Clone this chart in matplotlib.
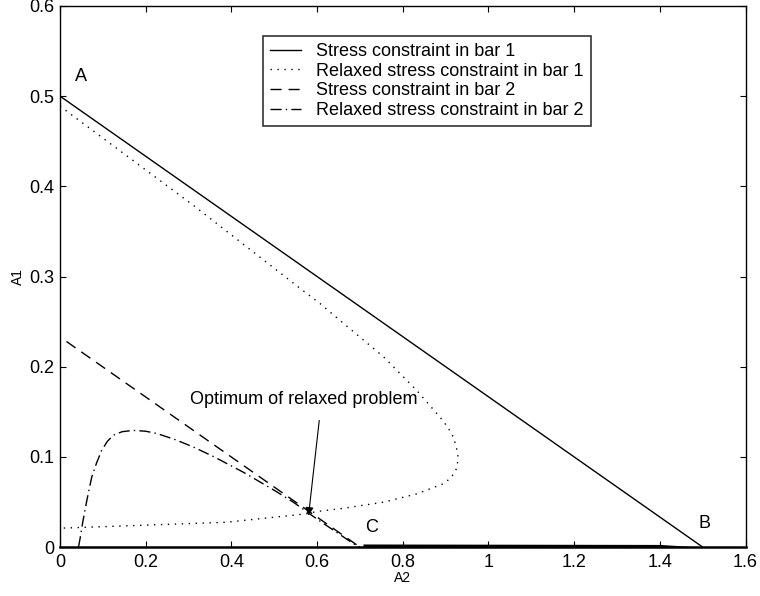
import matplotlib
matplotlib.use('Agg')
import matplotlib.pyplot as plt

plt.rcParams['font.family'] = ['Liberation Sans', 'DejaVu Sans']

# stress constraint in bar 1: straight line A -> B
bar1_a2 = [0.0, 1.5]
bar1_a1 = [0.5, 0.0]

# relaxed stress constraint in bar 1 (C-shaped curve)
relax1_a2 = [0.0, 0.012, 0.311, 0.56, 0.607, 0.653, 0.755, 0.832, 0.887, 0.905, 0.918,
             0.925, 0.929, 0.927, 0.922, 0.910, 0.895, 0.832, 0.755, 0.653, 0.599,
             0.576, 0.389, 0.0]
relax1_a1 = [0.489, 0.4846, 0.379, 0.287, 0.27, 0.2515, 0.211, 0.174, 0.144, 0.133, 0.122,
             0.111, 0.1, 0.09, 0.083, 0.076, 0.0703, 0.059, 0.0498, 0.0425, 0.0395,
             0.037, 0.0276, 0.021]

# stress constraint in bar 2
bar2_a2 = [0.015, 0.70]
bar2_a1 = [0.228, 0.0]

# relaxed stress constraint in bar 2
relax2_a2 = [0.043, 0.047, 0.052, 0.058, 0.066, 0.074, 0.085, 0.097, 0.110, 0.124,
             0.145, 0.171, 0.200, 0.226, 0.270, 0.311, 0.360, 0.428, 0.500, 0.544,
             0.600, 0.650, 0.684, 0.70]
relax2_a1 = [0.0, 0.010, 0.025, 0.0406, 0.060, 0.0776, 0.093, 0.107, 0.117, 0.124,
             0.128, 0.1294, 0.1285, 0.126, 0.119, 0.111, 0.100, 0.083, 0.063, 0.050,
             0.031, 0.015, 0.004, 0.0]

# thin sliver of the feasible region along A1 = 0 between C and B
sliver_a2 = [0.707, 1.40, 1.5]
sliver_top = [0.0035, 0.0030, 0.0]

optimum = (0.58, 0.035)
arrow_tail = (0.605, 0.1405)
note_pos = (0.568, 0.164)

xticks = [0, 0.2, 0.4, 0.6, 0.8, 1.0, 1.2, 1.4, 1.6]
xtick_labels = ['0', '0.2', '0.4', '0.6', '0.8', '1', '1.2', '1.4', '1.6']
yticks = [0, 0.1, 0.2, 0.3, 0.4, 0.5, 0.6]
ytick_labels = ['0', '0.1', '0.2', '0.3', '0.4', '0.5', '0.6']

fs = 13

fig = plt.figure(figsize=(7.6, 5.96), dpi=100)
ax = fig.add_axes([0.079, 0.082, 0.902, 0.908])

ax.plot(bar1_a2, bar1_a1, color='black', lw=1.0, label='Stress constraint in bar 1')
ax.plot(relax1_a2, relax1_a1, color='black', lw=1.0, linestyle=(0, (1, 4)),
        label='Relaxed stress constraint in bar 1')
ax.plot(bar2_a2, bar2_a1, color='black', lw=1.0, linestyle=(0, (8, 5)),
        label='Stress constraint in bar 2')
ax.plot(relax2_a2, relax2_a1, color='black', lw=1.0, linestyle=(0, (8, 3, 1, 3)),
        label='Relaxed stress constraint in bar 2')
ax.fill_between(sliver_a2, 0, sliver_top, color='black', lw=0)

ax.text(*note_pos, 'Optimum of relaxed problem', ha='center', va='center', fontsize=fs)
ax.annotate('', xy=optimum, xytext=arrow_tail,
            arrowprops=dict(arrowstyle='-|>', color='black', lw=0.8,
                            mutation_scale=12, shrinkA=0, shrinkB=0))

ax.text(0.05, 0.522, 'A', fontsize=fs, ha='center', va='center')
ax.text(1.505, 0.026, 'B', fontsize=fs, ha='center', va='center')
ax.text(0.727, 0.022, 'C', fontsize=fs, ha='center', va='center')

ax.set_xlim(0, 1.6)
ax.set_ylim(0, 0.6)
ax.set_xticks(xticks)
ax.set_xticklabels(xtick_labels)
ax.set_yticks(yticks)
ax.set_yticklabels(ytick_labels)
ax.tick_params(direction='in', length=4, width=0.8, top=True, right=True,
               labelsize=fs, colors='black')
ax.tick_params(axis='x', pad=5)
ax.tick_params(axis='y', pad=4)
for side in ['left', 'right', 'top']:
    ax.spines[side].set_linewidth(1.0)
ax.spines['bottom'].set_linewidth(1.8)

ax.set_xlabel('A2', fontsize=10, labelpad=0)
ax.set_ylabel('A1', fontsize=10, labelpad=3)

leg = ax.legend(loc='upper left', bbox_to_anchor=(0.296, 0.945), fontsize=fs,
                frameon=True, fancybox=False, handlelength=1.7, borderpad=0.4,
                labelspacing=0.15, handletextpad=0.85, borderaxespad=0)
leg.get_frame().set_edgecolor('black')
leg.get_frame().set_linewidth(1.2)

fig.savefig('out.png', dpi=100)
